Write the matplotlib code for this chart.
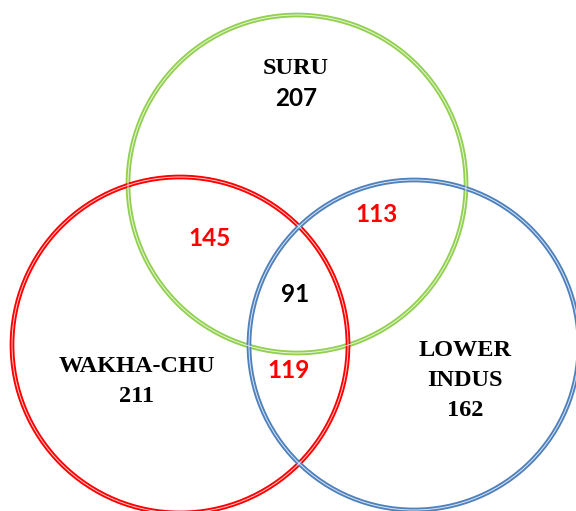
import matplotlib
matplotlib.use('Agg')
import matplotlib.pyplot as plt
from matplotlib.patches import Circle

# Data
sets = ['SURU', 'WAKHA-CHU', 'LOWER\nINDUS']
set_only = [207, 211, 162]
pair_labels = ['SURU & WAKHA-CHU', 'SURU & LOWER INDUS', 'WAKHA-CHU & LOWER INDUS']
pair_counts = [145, 113, 119]
all_three = 91

# Layout (pixel space, y down)
CIRCLES = [((297, 184), 169, '#92D050'),
           ((180, 345), 168, '#FF0000'),
           ((414, 345), 165, '#4F81BD')]
SET_POS = [(296, 83), (137, 382), (465, 380)]
PAIR_POS = [(210, 239), (377, 215), (289, 371)]
CENTER_POS = (295, 295)

fig = plt.figure(figsize=(5.76, 5.11), dpi=100)
ax = fig.add_axes([0, 0, 1, 1])
ax.set_xlim(0, 576)
ax.set_ylim(511, 0)
ax.set_aspect('equal')
ax.axis('off')

# double-line circles
for (c, r, col) in CIRCLES:
    ax.add_patch(Circle(c, r, fill=False, edgecolor=col, linewidth=3.4, zorder=2))
    ax.add_patch(Circle(c, r, fill=False, edgecolor='white', linewidth=0.7, alpha=0.8, zorder=3))

serif = dict(family='Liberation Serif', fontweight='bold', fontsize=17.5, color='black')
sans = dict(family='Lato', fontweight='bold', fontsize=17.5)

for k, (name, n, (x, y)) in enumerate(zip(sets, set_only, SET_POS)):
    lines = name.split('\n')
    step = 30
    top = y - step * len(lines) / 2
    for i, ln in enumerate(lines):
        ax.text(x, top + i * step, ln, ha='center', va='center', zorder=5, **serif)
    numstyle = dict(sans, color='black') if k == 0 else serif
    ax.text(x, top + len(lines) * step, str(n), ha='center', va='center', zorder=5,
            **numstyle)

for n, (x, y) in zip(pair_counts, PAIR_POS):
    ax.text(x, y, str(n), ha='center', va='center', color='#FF0000', zorder=5, **sans)

ax.text(*CENTER_POS, str(all_three), ha='center', va='center', color='black', zorder=5,
        **sans)

fig.savefig('out.png', dpi=100, facecolor='white')
